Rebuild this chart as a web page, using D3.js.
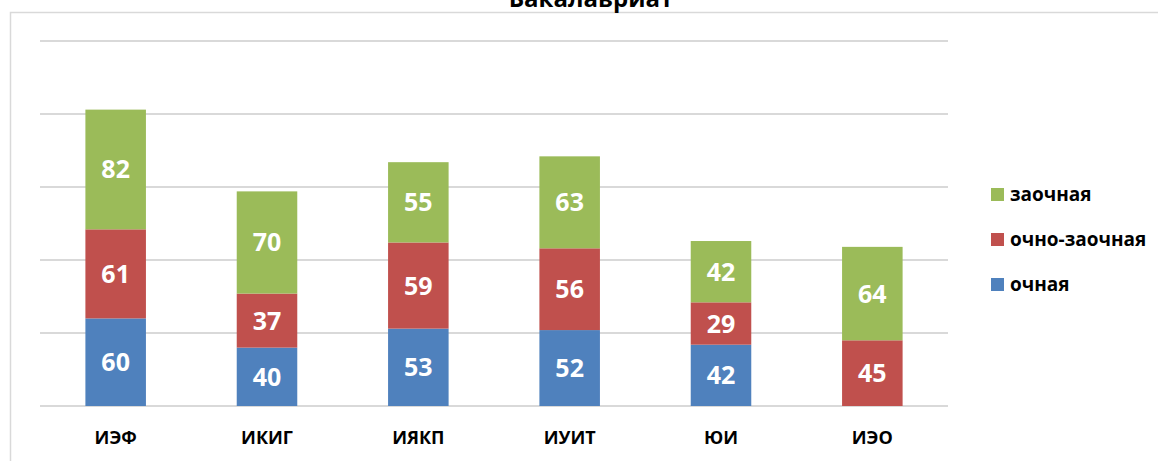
<!doctype html>
<html>
<head>
<meta charset="UTF-8">
<title>Бакалавриат</title>
<script src="https://d3js.org/d3.v7.min.js"></script>
<style>
  body { margin: 0; background: #fff; }
  text { font-family: "Open Sans", sans-serif; }
</style>
</head>
<body>
<script>
// categories (institutes)
var institutes = ["ИЭФ", "ИКИГ", "ИЯКП", "ИУИТ", "ЮИ", "ИЭО"];
// series values
var ochnaya = [60, 40, 53, 52, 42, 0];
var ochnoZaochnaya = [61, 37, 59, 56, 29, 45];
var zaochnaya = [82, 70, 55, 63, 42, 64];
var seriesNames = ["очная", "очно-заочная", "заочная"];
var yTicks = [0, 50, 100, 150, 200, 250];

var width = 1158, height = 461;
var colors = {"очная": "#4f81bd", "очно-заочная": "#c0504d", "заочная": "#9bbb59"};

var svg = d3.select("body").append("svg")
    .attr("width", width)
    .attr("height", height);

// outer frame of the chart area
svg.append("path")
    .attr("d", "M10.5," + height + "V12.5H" + width)
    .attr("fill", "none")
    .attr("stroke", "#d9d9d9")
    .attr("stroke-width", 1.5);

// title, cut off at the top as in the source
svg.append("text")
    .attr("x", 591)
    .attr("y", 7)
    .attr("text-anchor", "middle")
    .style("font-size", "24px")
    .style("font-weight", "bold")
    .text("Бакалавриат");

var rows = institutes.map(function(d, i) {
    return {inst: d, "очная": ochnaya[i], "очно-заочная": ochnoZaochnaya[i], "заочная": zaochnaya[i]};
});

var x = d3.scaleBand()
    .domain(institutes)
    .range([40, 948])
    .paddingInner(0.6)
    .paddingOuter(0.3);

var y = d3.scaleLinear()
    .domain([0, 250])
    .range([406, 41]);

// gridlines
svg.append("g")
    .selectAll("line")
    .data(yTicks)
    .enter().append("line")
    .attr("x1", 40)
    .attr("x2", 948)
    .attr("y1", function(d) { return y(d); })
    .attr("y2", function(d) { return y(d); })
    .attr("stroke", "#d9d9d9")
    .attr("stroke-width", 2);

var stack = d3.stack().keys(seriesNames);
var layers = stack(rows);

var layer = svg.append("g")
    .selectAll("g")
    .data(layers)
    .enter().append("g")
    .attr("fill", function(d) { return colors[d.key]; });

layer.selectAll("rect")
    .data(function(d) { return d; })
    .enter().append("rect")
    .attr("x", function(d) { return x(d.data.inst); })
    .attr("width", x.bandwidth())
    .attr("y", function(d) { return y(d[1]); })
    .attr("height", function(d) { return y(d[0]) - y(d[1]); });

// value labels
layer.selectAll("text")
    .data(function(d) { return d.filter(function(p) { return p[1] - p[0] > 0; }); })
    .enter().append("text")
    .attr("x", function(d) { return x(d.data.inst) + x.bandwidth() / 2; })
    .attr("y", function(d) { return (y(d[0]) + y(d[1])) / 2; })
    .attr("dy", "0.36em")
    .attr("text-anchor", "middle")
    .attr("fill", "#fff")
    .style("font-size", "25px")
    .style("font-weight", "bold")
    .text(function(d) { return d[1] - d[0]; });

// category axis
var xAxis = svg.append("g")
    .attr("transform", "translate(0,406)")
    .call(d3.axisBottom(x).tickSize(0).tickPadding(25));
xAxis.select(".domain").remove();
xAxis.selectAll("text")
    .attr("fill", "#000")
    .style("font-family", "'Open Sans', sans-serif")
    .style("font-size", "18px")
    .style("font-weight", "bold");

// legend (reverse order like the source)
var legend = svg.append("g")
    .selectAll("g")
    .data(seriesNames.slice().reverse())
    .enter().append("g")
    .attr("transform", function(d, i) { return "translate(991," + (188 + i * 45) + ")"; });

legend.append("rect")
    .attr("width", 13)
    .attr("height", 13)
    .attr("fill", function(d) { return colors[d]; });

legend.append("text")
    .attr("x", 19)
    .attr("y", 6.5)
    .attr("dy", "0.35em")
    .style("font-size", "19px")
    .style("font-weight", "bold")
    .text(function(d) { return d; });
</script>
</body>
</html>
